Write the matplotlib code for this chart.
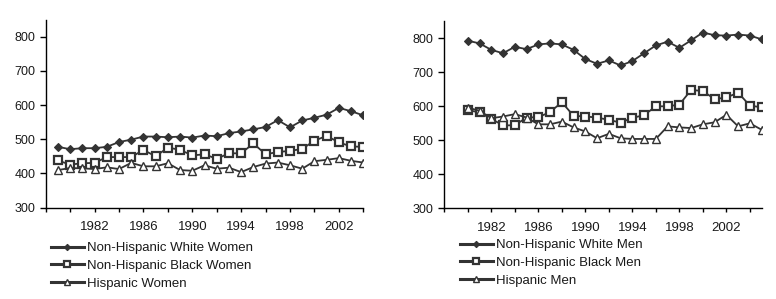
import matplotlib
matplotlib.use("Agg")
import matplotlib.pyplot as plt

plt.rcParams['font.family'] = ['Liberation Sans', 'DejaVu Sans']

# women: 1979-2004, men: 1980-2005
years_women = list(range(1979, 2005))
years_men = list(range(1980, 2006))

white_women = [478, 471, 474, 474, 478, 492, 499, 508, 508, 506, 508, 505, 511,
               509, 518, 523, 529, 536, 556, 535, 555, 563, 572, 592, 582, 570]
black_women = [438, 426, 430, 431, 448, 448, 448, 469, 450, 476, 469, 453, 456,
               443, 459, 459, 488, 456, 463, 466, 472, 496, 510, 491, 479, 478]
hisp_women = [410, 416, 415, 413, 418, 413, 431, 421, 421, 430, 410, 408, 424,
              414, 417, 404, 419, 429, 432, 424, 414, 436, 440, 445, 437, 432]

white_men = [793, 785, 766, 756, 775, 768, 782, 785, 782, 766, 739, 725, 735,
             720, 733, 756, 779, 790, 772, 794, 817, 809, 808, 811, 808, 797]
black_men = [589, 582, 563, 544, 544, 567, 568, 583, 612, 572, 570, 567, 560,
             552, 566, 574, 600, 600, 605, 648, 645, 621, 626, 640, 602, 597]
hisp_men = [596, 587, 565, 570, 577, 567, 547, 547, 555, 538, 526, 506, 519,
            506, 504, 504, 504, 541, 538, 536, 547, 553, 575, 541, 550, 531]

labels_women = ["Non-Hispanic White Women", "Non-Hispanic Black Women", "Hispanic Women"]
labels_men = ["Non-Hispanic White Men", "Non-Hispanic Black Men", "Hispanic Men"]

tick_years = list(range(1978, 2005, 2))
label_years = list(range(1982, 2003, 4))
yticks = [300, 400, 500, 600, 700, 800]

lc = '#333333'
styles = [
    dict(marker='D', markersize=4.0, markerfacecolor=lc, markeredgecolor=lc, markeredgewidth=0.8),
    dict(marker='s', markersize=5.6, markerfacecolor='white', markeredgecolor=lc, markeredgewidth=1.6),
    dict(marker='^', markersize=5.2, markerfacecolor='white', markeredgecolor=lc, markeredgewidth=1.0),
]

fig = plt.figure(figsize=(7.76, 2.99), dpi=100)
ax1 = fig.add_axes([0.0589, 0.3054, 0.4093, 0.629])
ax2 = fig.add_axes([0.5725, 0.3033, 0.409, 0.6255])


def draw(ax, years, series, labels, xmax, leg_anchor):
    handles = []
    for vals, st, lab in zip(series, styles, labels):
        h, = ax.plot(years, vals, color=lc, lw=1.3, label=lab, **st)
        handles.append(h)
    ax.set_xlim(1978, xmax)
    ax.set_ylim(300, 850)
    ax.set_yticks(yticks)
    ax.set_xticks(tick_years)
    ax.set_xticklabels([str(y) if y in label_years else '' for y in tick_years])
    for s in ['top', 'right']:
        ax.spines[s].set_visible(False)
    for s in ['left', 'bottom']:
        ax.spines[s].set_linewidth(1.0)
        ax.spines[s].set_color('black')
    ax.tick_params(axis='y', direction='out', length=4, width=1, pad=3.5,
                   labelsize=9, labelcolor='#1a1a1a')
    ax.tick_params(axis='x', direction='out', length=3, width=1, pad=6.5,
                   labelsize=9.5, labelcolor='#1a1a1a')
    leg = fig.legend(handles=handles, loc='upper left', bbox_to_anchor=leg_anchor,
                     frameon=False, fontsize=9.5, handlelength=2.5,
                     handletextpad=0.25, labelspacing=0.42, borderpad=0,
                     borderaxespad=0, markerscale=0.8)
    for t in leg.get_texts():
        t.set_color('#1a1a1a')
    for lh in leg.get_lines():
        lh.set_linewidth(2.2)


draw(ax1, years_women, [white_women, black_women, hisp_women], labels_women,
     2004, (50.7 / 776, 1 - 242 / 299))
draw(ax2, years_men, [white_men, black_men, hisp_men], labels_men,
     2005, (460 / 776, 1 - 239 / 299))

fig.savefig("out.png", dpi=100)
